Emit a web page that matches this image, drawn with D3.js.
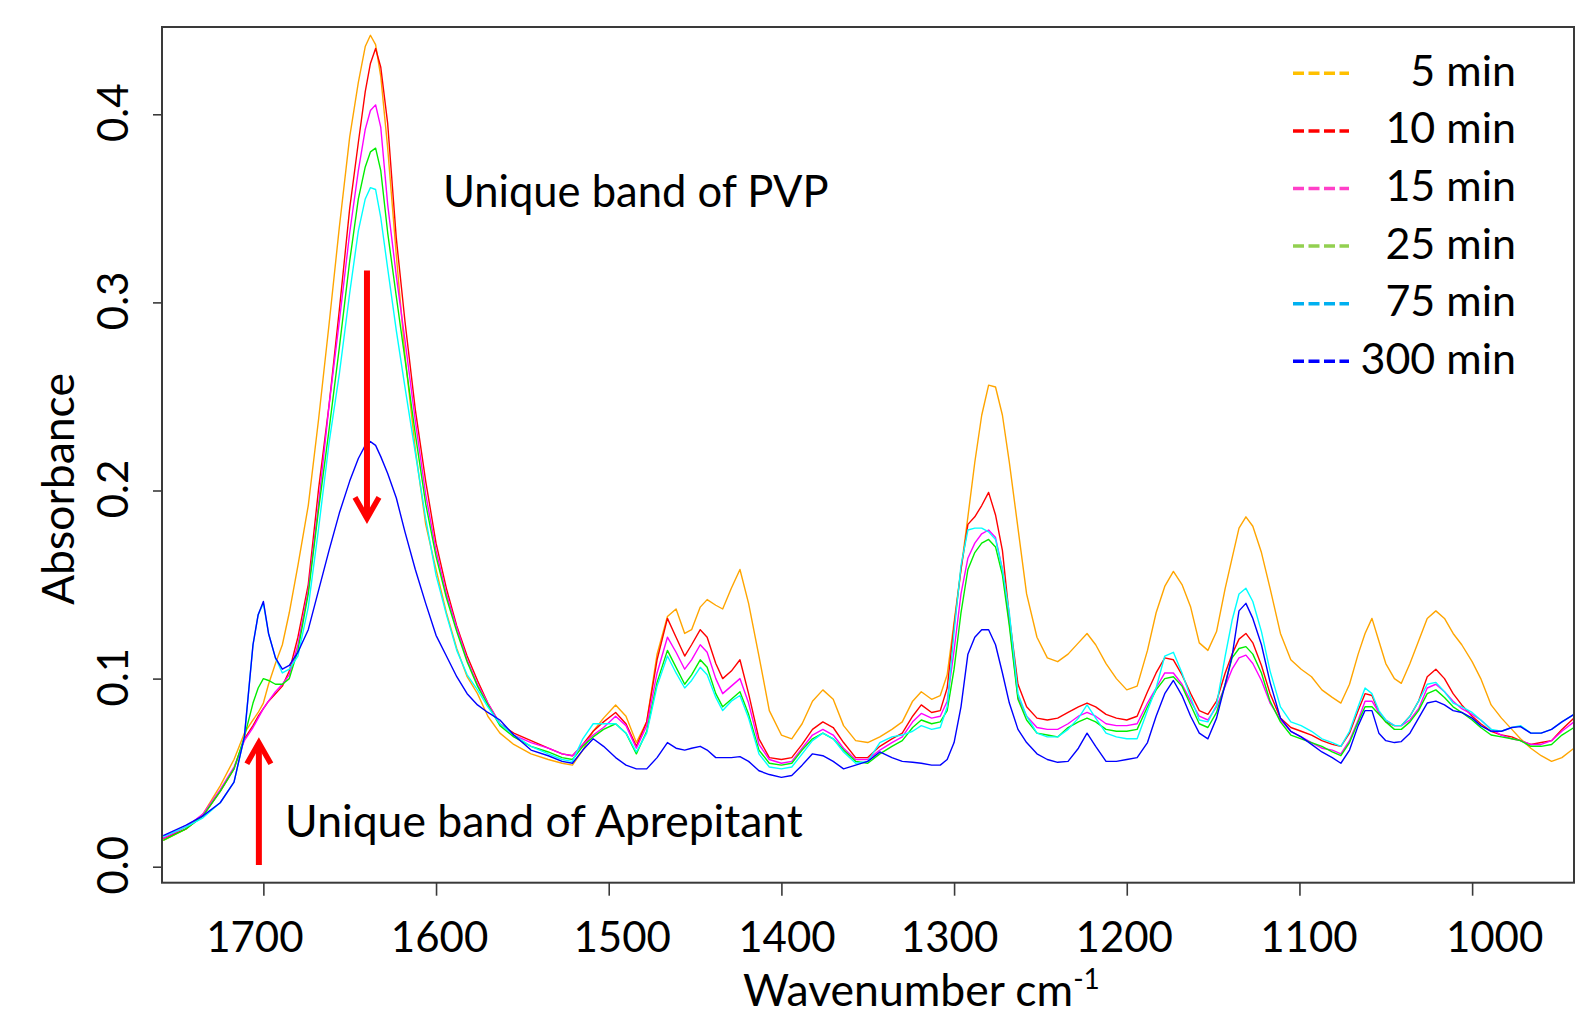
<!DOCTYPE html>
<html>
<head>
<meta charset="utf-8">
<script src="https://cdn.jsdelivr.net/npm/d3@7/dist/d3.min.js"></script>
<style>
  html, body { margin: 0; padding: 0; background: #ffffff; }
  svg { display: block; }
  text { font-family: Lato, "Open Sans", "DejaVu Sans", sans-serif; fill: #000; }
</style>
</head>
<body>
<svg id="chart" width="1579" height="1010"></svg>
<script>
// ---------------- DATA ----------------
const wavenumbers = [
  1758,1745,1735,1725,1717,1711,1706,1703,1700,1697,
  1693,1689,1685,1680,1674,1668,1662,1656,1650,1645,
  1641,1638,1635,1632,1628,1623,1618,1612,1606,1600,
  1594,1588,1582,1576,1570,1563,1555,1545,1535,1527,
  1521,1515,1509,1503,1496,1490,1484,1478,1472,1466,
  1461,1456,1452,1447,1443,1438,1434,1429,1424,1419,
  1413,1407,1400,1394,1388,1382,1376,1370,1364,1357,
  1350,1343,1336,1330,1324,1319,1313,1308,1304,1300,
  1296,1292,1288,1284,1280,1276,1272,1268,1263,1258,
  1252,1246,1240,1234,1228,1223,1218,1212,1206,1200,
  1194,1188,1183,1178,1173,1168,1163,1158,1153,1148,
  1143,1139,1135,1131,1127,1122,1117,1111,1105,1099,
  1093,1087,1081,1076,1071,1066,1062,1058,1054,1050,
  1045,1041,1036,1031,1026,1021,1016,1011,1006,1000,
  995,989,983,977,972,966,960,954,948,941
];

const abs5min = [
  0.014,0.020,0.028,0.043,0.057,0.071,0.078,0.082,0.087,0.097,
  0.108,0.118,0.135,0.160,0.192,0.238,0.288,0.340,0.388,0.417,
  0.436,0.442,0.437,0.420,0.382,0.325,0.272,0.222,0.182,0.158,
  0.135,0.116,0.101,0.092,0.080,0.071,0.065,0.060,0.057,0.055,
  0.054,0.062,0.072,0.079,0.086,0.080,0.066,0.077,0.113,0.133,
  0.137,0.124,0.126,0.138,0.142,0.139,0.137,0.148,0.158,0.140,
  0.112,0.083,0.070,0.068,0.076,0.088,0.094,0.089,0.075,0.067,
  0.066,0.069,0.073,0.077,0.088,0.093,0.089,0.091,0.102,0.130,
  0.158,0.186,0.215,0.240,0.256,0.255,0.240,0.215,0.180,0.145,
  0.122,0.111,0.109,0.113,0.119,0.124,0.118,0.108,0.100,0.094,
  0.096,0.115,0.135,0.149,0.157,0.150,0.138,0.119,0.115,0.125,
  0.148,0.164,0.180,0.186,0.181,0.167,0.148,0.124,0.110,0.105,
  0.101,0.094,0.090,0.087,0.097,0.113,0.124,0.132,0.120,0.108,
  0.100,0.0975,0.108,0.120,0.132,0.136,0.132,0.124,0.118,0.109,
  0.100,0.086,0.079,0.073,0.068,0.063,0.059,0.056,0.058,0.063
];

const abs10min = [
  0.015,0.020,0.027,0.040,0.052,0.068,0.075,0.080,0.084,0.088,
  0.092,0.096,0.104,0.122,0.150,0.201,0.245,0.296,0.350,0.385,
  0.412,0.427,0.435,0.425,0.395,0.334,0.290,0.243,0.205,0.172,
  0.148,0.128,0.112,0.099,0.087,0.076,0.071,0.067,0.063,0.060,
  0.059,0.065,0.072,0.077,0.082,0.076,0.064,0.077,0.110,0.132,
  0.122,0.112,0.118,0.126,0.122,0.108,0.100,0.104,0.110,0.092,
  0.068,0.058,0.057,0.058,0.065,0.073,0.077,0.074,0.066,0.058,
  0.058,0.064,0.068,0.071,0.080,0.086,0.082,0.083,0.095,0.128,
  0.158,0.182,0.186,0.192,0.199,0.187,0.168,0.133,0.097,0.085,
  0.079,0.078,0.079,0.082,0.085,0.087,0.085,0.081,0.079,0.078,
  0.080,0.093,0.103,0.111,0.110,0.102,0.092,0.083,0.081,0.088,
  0.103,0.113,0.121,0.124,0.119,0.107,0.092,0.079,0.074,0.072,
  0.070,0.067,0.065,0.064,0.071,0.083,0.092,0.091,0.082,0.077,
  0.075,0.075,0.080,0.088,0.101,0.105,0.100,0.092,0.086,0.080,
  0.076,0.072,0.070,0.069,0.067,0.065,0.066,0.067,0.073,0.079
];

const abs15min = [
  0.015,0.021,0.028,0.041,0.053,0.067,0.074,0.079,0.084,0.088,
  0.093,0.097,0.102,0.118,0.147,0.193,0.245,0.290,0.337,0.370,
  0.392,0.402,0.405,0.393,0.352,0.314,0.280,0.237,0.198,0.168,
  0.145,0.127,0.110,0.097,0.087,0.076,0.070,0.066,0.063,0.060,
  0.059,0.065,0.070,0.074,0.080,0.075,0.063,0.075,0.103,0.122,
  0.114,0.105,0.110,0.118,0.114,0.100,0.092,0.096,0.100,0.087,
  0.065,0.057,0.055,0.056,0.063,0.070,0.073,0.070,0.063,0.057,
  0.057,0.062,0.066,0.069,0.077,0.0815,0.079,0.080,0.088,0.115,
  0.145,0.164,0.172,0.177,0.179,0.175,0.158,0.130,0.090,0.080,
  0.074,0.073,0.073,0.076,0.080,0.082,0.080,0.076,0.075,0.075,
  0.076,0.087,0.095,0.103,0.103,0.097,0.088,0.080,0.078,0.085,
  0.096,0.105,0.111,0.1125,0.108,0.099,0.087,0.078,0.072,0.069,
  0.066,0.063,0.062,0.060,0.067,0.078,0.088,0.088,0.082,0.078,
  0.075,0.075,0.078,0.084,0.095,0.097,0.093,0.088,0.084,0.081,
  0.078,0.073,0.070,0.068,0.067,0.065,0.065,0.067,0.072,0.077
];

const abs25min = [
  0.014,0.020,0.027,0.040,0.052,0.069,0.087,0.095,0.100,0.099,
  0.097,0.097,0.100,0.115,0.145,0.190,0.232,0.276,0.322,0.355,
  0.372,0.380,0.382,0.370,0.337,0.303,0.270,0.230,0.193,0.165,
  0.143,0.125,0.109,0.096,0.086,0.075,0.069,0.064,0.061,0.058,
  0.057,0.064,0.069,0.073,0.076,0.071,0.060,0.072,0.098,0.115,
  0.106,0.097,0.102,0.110,0.106,0.092,0.085,0.089,0.093,0.081,
  0.062,0.055,0.054,0.055,0.062,0.068,0.071,0.068,0.062,0.056,
  0.055,0.060,0.064,0.067,0.074,0.078,0.076,0.077,0.083,0.105,
  0.135,0.158,0.167,0.172,0.174,0.170,0.155,0.128,0.089,0.078,
  0.071,0.070,0.069,0.074,0.077,0.079,0.077,0.073,0.072,0.072,
  0.073,0.085,0.094,0.100,0.101,0.096,0.086,0.076,0.074,0.082,
  0.097,0.111,0.116,0.117,0.113,0.103,0.088,0.077,0.070,0.068,
  0.066,0.064,0.061,0.059,0.066,0.077,0.085,0.085,0.081,0.077,
  0.073,0.073,0.077,0.083,0.092,0.094,0.090,0.085,0.082,0.078,
  0.074,0.070,0.069,0.068,0.067,0.064,0.064,0.065,0.070,0.074
];

const abs75min = [
  0.016,0.021,0.026,0.034,0.045,0.069,0.118,0.134,0.140,0.124,
  0.111,0.103,0.105,0.112,0.138,0.180,0.225,0.262,0.305,0.338,
  0.355,0.361,0.360,0.345,0.318,0.285,0.255,0.220,0.185,0.155,
  0.134,0.115,0.102,0.094,0.085,0.076,0.070,0.064,0.060,0.057,
  0.056,0.068,0.076,0.076,0.076,0.071,0.061,0.071,0.096,0.112,
  0.103,0.095,0.099,0.106,0.102,0.090,0.083,0.088,0.091,0.079,
  0.060,0.053,0.052,0.053,0.060,0.067,0.071,0.068,0.061,0.055,
  0.056,0.066,0.069,0.070,0.072,0.075,0.073,0.074,0.085,0.125,
  0.160,0.179,0.180,0.180,0.178,0.174,0.158,0.135,0.092,0.080,
  0.071,0.069,0.069,0.073,0.079,0.086,0.079,0.071,0.069,0.068,
  0.068,0.083,0.095,0.112,0.114,0.103,0.090,0.078,0.077,0.086,
  0.112,0.131,0.145,0.148,0.141,0.125,0.104,0.085,0.077,0.075,
  0.072,0.068,0.066,0.064,0.072,0.085,0.095,0.092,0.083,0.078,
  0.075,0.075,0.080,0.088,0.097,0.098,0.093,0.087,0.085,0.082,
  0.078,0.073,0.072,0.074,0.075,0.071,0.071,0.073,0.077,0.081
];

const abs300min = [
  0.0165,0.022,0.027,0.034,0.045,0.069,0.118,0.134,0.141,0.124,
  0.111,0.105,0.107,0.114,0.126,0.147,0.168,0.188,0.205,0.217,
  0.224,0.226,0.224,0.218,0.209,0.196,0.178,0.158,0.140,0.123,
  0.112,0.101,0.092,0.086,0.082,0.078,0.070,0.062,0.059,0.056,
  0.055,0.062,0.068,0.064,0.058,0.054,0.052,0.052,0.058,0.066,
  0.063,0.062,0.063,0.064,0.062,0.058,0.058,0.058,0.0585,0.056,
  0.051,0.049,0.0475,0.0485,0.054,0.060,0.059,0.056,0.052,0.054,
  0.056,0.061,0.058,0.056,0.0555,0.055,0.054,0.054,0.057,0.066,
  0.085,0.113,0.122,0.126,0.126,0.118,0.103,0.087,0.073,0.066,
  0.060,0.057,0.0555,0.056,0.063,0.071,0.064,0.056,0.056,0.057,
  0.058,0.066,0.080,0.092,0.099,0.091,0.080,0.071,0.068,0.079,
  0.097,0.112,0.136,0.140,0.132,0.118,0.098,0.079,0.072,0.069,
  0.065,0.061,0.058,0.055,0.062,0.075,0.083,0.083,0.071,0.067,
  0.066,0.0665,0.071,0.079,0.087,0.088,0.086,0.083,0.082,0.079,
  0.075,0.072,0.072,0.074,0.0745,0.071,0.071,0.073,0.077,0.081
];

const seriesNames = ["5 min", "10 min", "15 min", "25 min", "75 min", "300 min"];
const lineColors = ["#FFA500", "#FF0000", "#FF00FF", "#00EE00", "#00FFFF", "#0000FF"];
const legendColors = ["#FFC000", "#FF0000", "#FF40C8", "#92D050", "#00B0F0", "#0000FF"];
const xTickValues = [1700, 1600, 1500, 1400, 1300, 1200, 1100, 1000];
const yTickValues = [0.0, 0.1, 0.2, 0.3, 0.4];
const xAxisLabel = "Wavenumber cm";
const xAxisSup = "-1";
const yAxisLabel = "Absorbance";
const annotationTexts = ["Unique band of PVP", "Unique band of Aprepitant"];
const annotationAnchors = [[1596, 0.3506], [1687.4, 0.0158]];   // [wavenumber, absorbance]
const arrowAnchors = [[1640.0, 0.317, 0.1852], [1702.6, 0.0009, 0.0659]]; // [wavenumber, from, to]

// ---------------- LAYOUT ----------------
// horizontal nudges of the x tick labels as placed in the original figure
const xLabelNudge = { 1700: -9, 1600: 3, 1500: 13, 1400: 5, 1300: -5, 1200: -3, 1100: 9, 1000: 22 };
const annotationFontSizes = [43.5, 44.5];

// ---------------- CHART ----------------
const seriesValues = [abs5min, abs10min, abs15min, abs25min, abs75min, abs300min];
const svg = d3.select("#chart");

const plot = { left: 162, right: 1574, top: 27, bottom: 882.7 };

const x = d3.scaleLinear().domain([1758.7, 941]).range([plot.left, plot.right]);
const y = d3.scaleLinear().domain([-0.0085, 0.4464]).range([plot.bottom, plot.top]);

svg.append("defs").append("clipPath").attr("id", "plotclip")
  .append("rect")
  .attr("x", plot.left).attr("y", plot.top)
  .attr("width", plot.right - plot.left).attr("height", plot.bottom - plot.top);

// Spectra
const line = d3.line()
  .x((d, i) => x(wavenumbers[i]))
  .y(d => y(d));

const gLines = svg.append("g").attr("clip-path", "url(#plotclip)");
seriesValues.forEach((vals, k) => {
  gLines.append("path")
    .datum(vals)
    .attr("d", line)
    .attr("fill", "none")
    .attr("stroke", lineColors[k])
    .attr("stroke-width", 1.4)
    .attr("stroke-linejoin", "round");
});

// Box
svg.append("rect")
  .attr("x", plot.left).attr("y", plot.top)
  .attr("width", plot.right - plot.left).attr("height", plot.bottom - plot.top)
  .attr("fill", "none").attr("stroke", "#3a3a3a").attr("stroke-width", 2);

// X axis
const xAxis = d3.axisBottom(x).tickValues(xTickValues).tickSize(13).tickSizeOuter(0)
  .tickFormat(d3.format("d"));
const gx = svg.append("g").attr("transform", `translate(0,${plot.bottom})`).call(xAxis);
gx.select(".domain").remove();
gx.selectAll(".tick line").attr("stroke", "#3a3a3a").attr("stroke-width", 1.6);
gx.selectAll(".tick text")
  .attr("x", d => xLabelNudge[d] || 0)
  .attr("y", 69.5).attr("dy", 0)
  .style("font-size", "42px")
  .style("font-family", "Lato, 'Open Sans', sans-serif")
  .attr("fill", "#000");

// Y axis
const yAxis = d3.axisLeft(y).tickValues(yTickValues).tickSize(9).tickSizeOuter(0)
  .tickFormat(d3.format(".1f"));
const gy = svg.append("g").attr("transform", `translate(${plot.left},0)`).call(yAxis);
gy.select(".domain").remove();
gy.selectAll(".tick line").attr("stroke", "#3a3a3a").attr("stroke-width", 1.6);
gy.selectAll(".tick text")
  .attr("transform", "rotate(-90)")
  .attr("x", 2).attr("y", -34).attr("dy", 0)
  .style("text-anchor", "middle")
  .style("font-size", "42px")
  .style("font-family", "Lato, 'Open Sans', sans-serif")
  .attr("fill", "#000");

// Axis titles
svg.append("text")
  .attr("transform", "translate(74,489) rotate(-90)")
  .attr("text-anchor", "middle")
  .style("font-size", "44.5px")
  .text(yAxisLabel);

const xt = svg.append("text")
  .attr("x", 743).attr("y", 1006)
  .style("font-size", "44.5px");
xt.append("tspan").text(xAxisLabel);
xt.append("tspan").attr("dy", -17).style("font-size", "28px").text(xAxisSup);

// Annotations
annotationTexts.forEach((t, k) => {
  svg.append("text")
    .attr("x", x(annotationAnchors[k][0])).attr("y", y(annotationAnchors[k][1]))
    .style("font-size", annotationFontSizes[k] + "px")
    .text(t);
});

// Arrows
arrowAnchors.forEach(([w, from, to]) => {
  const ax = x(w), y0 = y(from), y1 = y(to);
  const dir = y1 > y0 ? 1 : -1;
  svg.append("line")
    .attr("x1", ax).attr("x2", ax)
    .attr("y1", y0).attr("y2", y1 - dir * 3)
    .attr("stroke", "#FF0000").attr("stroke-width", 6);
  svg.append("path")
    .attr("d", `M${ax - 12},${y1 - dir * 21} L${ax},${y1} L${ax + 12},${y1 - dir * 21}`)
    .attr("fill", "none").attr("stroke", "#FF0000")
    .attr("stroke-width", 5.5).attr("stroke-linecap", "butt").attr("stroke-linejoin", "miter");
});

// Legend
const legend = svg.append("g");
seriesNames.forEach((name, k) => {
  const ly = 73.3 + k * 57.6;
  legend.append("line")
    .attr("x1", 1293).attr("x2", 1349)
    .attr("y1", ly).attr("y2", ly)
    .attr("stroke", legendColors[k])
    .attr("stroke-width", 3.5)
    .attr("stroke-dasharray", "11,4.5");
  legend.append("text")
    .attr("x", 1516).attr("y", ly + 12.5)
    .attr("text-anchor", "end")
    .style("font-size", "43px")
    .text(name);
});
</script>
</body>
</html>
